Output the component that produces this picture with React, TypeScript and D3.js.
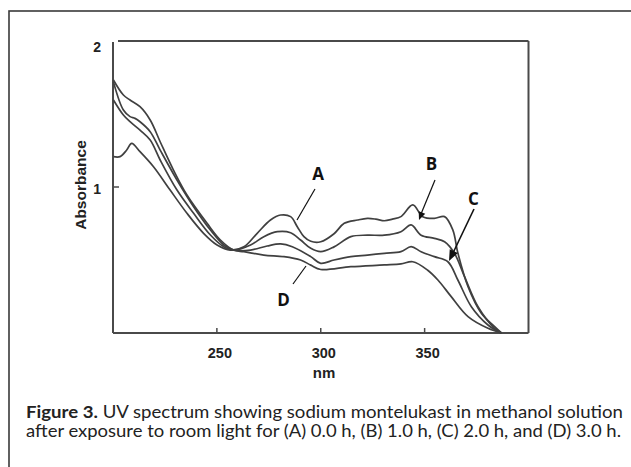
import React from "react";
import * as d3 from "d3";

// ---- data ----
const xTicks = [250, 300, 350];
const yTicks = [1, 2];

const aNm = [200.2, 203.4, 206.6, 209, 213, 219.5, 227.5, 235.6, 243.6, 250.1, 256.5, 263, 269.4, 275.8, 280.7, 285.5, 288.7, 291.9, 295.2, 300, 306.4, 311.3, 317.7, 322.5, 326.5, 330.6, 334.5, 338.6, 344.3, 349.1, 354.7, 359.6, 363.6, 366, 370.9, 377.3, 383.7, 387];
const aAbs = [1.208, 1.208, 1.253, 1.299, 1.242, 1.139, 0.979, 0.82, 0.683, 0.603, 0.568, 0.59, 0.683, 0.774, 0.808, 0.797, 0.728, 0.66, 0.628, 0.625, 0.68, 0.751, 0.774, 0.785, 0.78, 0.769, 0.78, 0.797, 0.877, 0.797, 0.785, 0.797, 0.705, 0.548, 0.317, 0.135, 0.043, 0.0];

const bNm = [200.2, 205, 208.2, 213, 217.9, 222.7, 230.8, 238.8, 246.9, 253.3, 258.1, 266.2, 272.6, 279.1, 285.5, 290.3, 295.2, 300, 306.4, 314.5, 322.5, 330.6, 338.6, 343.5, 348.3, 354.7, 359.6, 364.4, 369.2, 375.7, 383.7, 387];
const bAbs = [1.596, 1.493, 1.447, 1.39, 1.322, 1.185, 0.979, 0.82, 0.671, 0.591, 0.568, 0.603, 0.66, 0.694, 0.687, 0.637, 0.58, 0.557, 0.59, 0.66, 0.67, 0.67, 0.694, 0.74, 0.67, 0.648, 0.625, 0.545, 0.386, 0.18, 0.032, 0.0];

const cNm = [200.2, 205, 208.2, 210.6, 213, 217.9, 222.7, 230.8, 238.8, 246.9, 253.3, 258.1, 266.2, 274.2, 280.7, 286.3, 295.2, 300, 306.4, 314.5, 322.5, 330.6, 338.6, 343.5, 348.3, 354.7, 361.2, 366, 372.5, 380.5, 387];
const cAbs = [1.72, 1.527, 1.482, 1.47, 1.447, 1.379, 1.253, 1.048, 0.865, 0.705, 0.603, 0.568, 0.568, 0.596, 0.61, 0.591, 0.523, 0.477, 0.5, 0.523, 0.534, 0.546, 0.557, 0.591, 0.557, 0.523, 0.488, 0.363, 0.18, 0.055, 0.0];

const dNm = [200.2, 205, 208.2, 213, 217.9, 222.7, 229.1, 235.6, 245.3, 251.7, 258.1, 263, 272.6, 282.3, 290.3, 295.2, 300, 314.5, 330.6, 338.6, 344.3, 351.5, 356.4, 362.8, 370.9, 380.5, 387];
const dAbs = [1.733, 1.63, 1.596, 1.55, 1.459, 1.31, 1.116, 0.945, 0.751, 0.637, 0.568, 0.557, 0.534, 0.523, 0.5, 0.465, 0.435, 0.454, 0.466, 0.473, 0.488, 0.43, 0.363, 0.249, 0.112, 0.032, 0.0];

const seriesNames = ["A", "B", "C", "D"];
const seriesNm = [aNm, bNm, cNm, dNm];
const seriesAbs = [aAbs, bAbs, cAbs, dAbs];

const captionBold = "Figure 3.";
const captionLine1 = " UV spectrum showing sodium montelukast in methanol solution";
const captionLine2 = "after exposure to room light for (A) 0.0 h, (B) 1.0 h, (C) 2.0 h, and (D) 3.0 h.";

// ---- layout ----
const W = 631;
const H = 467;
const left = 113;
const right = 528.5;
const top = 41;
const bottom = 333;

const x = d3.scaleLinear().domain([200, 400]).range([left, right]);
const y = d3.scaleLinear().domain([0, 2]).range([bottom, top]);

const line = d3
  .line<[number, number]>()
  .x((d) => x(d[0]))
  .y((d) => y(d[1]))
  .curve(d3.curveCatmullRom.alpha(0.5));

function arrowHead(x1: number, y1: number, x2: number, y2: number, len: number, half: number) {
  const dx = x2 - x1;
  const dy = y2 - y1;
  const L = Math.sqrt(dx * dx + dy * dy);
  const ux = dx / L;
  const uy = dy / L;
  const bx = x2 - ux * len;
  const by = y2 - uy * len;
  const px = -uy;
  const py = ux;
  return `${x2},${y2} ${bx + px * half},${by + py * half} ${bx - px * half},${by - py * half}`;
}

const labelFont = "'Open Sans', 'DejaVu Sans', sans-serif";
const axisFont = "'Liberation Sans', Arial, sans-serif";
const captionFont = "Lato, 'Open Sans', sans-serif";

export default function App() {
  const axisColor = "#4a4a4a";
  const curveColor = "#404040";
  return (
    <svg
      width={W}
      height={H}
      viewBox={`0 0 ${W} ${H}`}
      style={{ position: "absolute", left: 0, top: 0, background: "#fff" }}
    >
      {/* outer frame */}
      <rect x={9} y={11} width={W + 20} height={H + 20} fill="none" stroke="#3a3a3a" strokeWidth={1.6} />

      {/* plot box */}
      <line x1={left} y1={top + 1} x2={left} y2={bottom} stroke={axisColor} strokeWidth={2} />
      <line x1={left} y1={bottom} x2={right} y2={bottom} stroke={axisColor} strokeWidth={2} />
      <line x1={right} y1={top} x2={right} y2={bottom} stroke={axisColor} strokeWidth={2} />
      <line x1={left + 5} y1={top} x2={right} y2={top} stroke={axisColor} strokeWidth={1.8} />

      {/* x ticks */}
      {xTicks.map((t) => (
        <g key={"xt" + t}>
          <line x1={x(t)} y1={bottom} x2={x(t)} y2={bottom - 5} stroke={axisColor} strokeWidth={1.5} />
          <text
            x={x(t) + 3}
            y={358}
            textAnchor="middle"
            fontFamily={axisFont}
            fontWeight="bold"
            fontSize={14.5}
            fill="#222"
          >
            {t}
          </text>
        </g>
      ))}
      <text x={324} y={378} textAnchor="middle" fontFamily={axisFont} fontWeight="bold" fontSize={15} fill="#222">
        nm
      </text>

      {/* y ticks */}
      {yTicks.map((t) => (
        <g key={"yt" + t}>
          {t < 2 && <line x1={left} y1={y(t)} x2={left + 6} y2={y(t)} stroke={axisColor} strokeWidth={1.5} />}
          <text
            x={101}
            y={y(t) + (t === 2 ? 6 : 2)}
            textAnchor="end"
            dominantBaseline="central"
            fontFamily={axisFont}
            fontWeight="bold"
            fontSize={14}
            fill="#222"
          >
            {t}
          </text>
        </g>
      ))}
      <text
        transform="translate(80,185) rotate(-90)"
        textAnchor="middle"
        dominantBaseline="central"
        fontFamily={axisFont}
        fontWeight="bold"
        fontSize={15.5}
        fill="#222"
      >
        Absorbance
      </text>

      {/* spectra */}
      {seriesNames.map((name, i) => {
        const pts = seriesNm[i].map((nm, j) => [nm, seriesAbs[i][j]] as [number, number]);
        return (
          <path key={name} d={line(pts) || ""} fill="none" stroke={curveColor} strokeWidth={1.7} strokeLinejoin="round" />
        );
      })}

      {/* annotations */}
      <line x1={315} y1={189} x2={297} y2={220} stroke="#111" strokeWidth={1.2} />
      <text x={318} y={173} textAnchor="middle" dominantBaseline="central" fontFamily={labelFont} fontWeight="bold" fontSize={17} fill="#111">
        A
      </text>

      <line x1={435} y1={180} x2={421} y2={214} stroke="#111" strokeWidth={1.2} />
      <polygon points={arrowHead(435, 180, 419, 220, 8, 3.5)} fill="#111" />
      <text x={431.5} y={163} textAnchor="middle" dominantBaseline="central" fontFamily={labelFont} fontWeight="bold" fontSize={17} fill="#111">
        B
      </text>

      <line x1={474} y1={209} x2={453} y2={253} stroke="#111" strokeWidth={1.6} />
      <polygon points={arrowHead(474, 209, 449, 261, 11, 4.5)} fill="#111" />
      <text x={473.5} y={198.5} textAnchor="middle" dominantBaseline="central" fontFamily={labelFont} fontWeight="bold" fontSize={17} fill="#111">
        C
      </text>

      <line x1={293} y1={284} x2={306} y2={266} stroke="#111" strokeWidth={1.2} />
      <text x={283.5} y={299.5} textAnchor="middle" dominantBaseline="central" fontFamily={labelFont} fontWeight="bold" fontSize={17} fill="#111">
        D
      </text>

      {/* caption */}
      <text
        x={26}
        y={418}
        fontFamily={captionFont}
        fontSize={17}
        fill="#222"
        textLength={597}
        lengthAdjust="spacingAndGlyphs"
      >
        <tspan fontWeight="bold">{captionBold}</tspan>
        <tspan>{captionLine1}</tspan>
      </text>
      <text
        x={26}
        y={437}
        fontFamily={captionFont}
        fontSize={17}
        fill="#222"
        textLength={595}
        lengthAdjust="spacingAndGlyphs"
      >
        {captionLine2}
      </text>
    </svg>
  );
}
